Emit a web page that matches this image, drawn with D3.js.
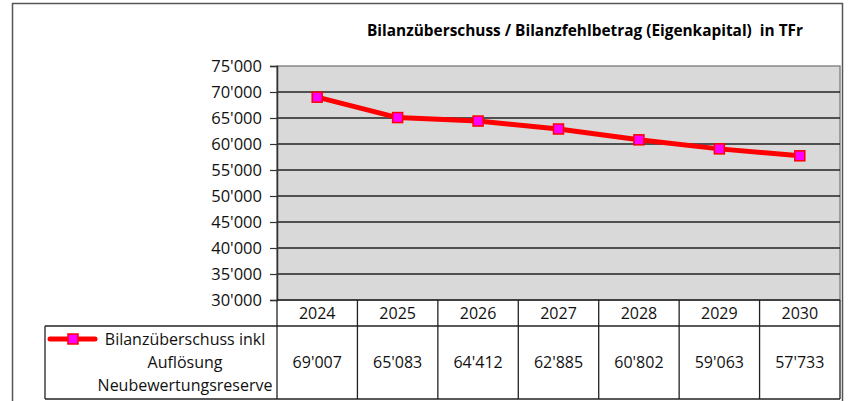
<!DOCTYPE html>
<html>
<head>
<meta charset="utf-8">
<script src="https://cdn.jsdelivr.net/npm/d3@7"></script>
<style>
  body { margin: 0; background: #fff; }
  svg { display: block; font-family: "Open Sans", "DejaVu Sans", sans-serif; }
</style>
</head>
<body>
<svg width="852" height="401"></svg>
<script>
const years = ["2024", "2025", "2026", "2027", "2028", "2029", "2030"]
const values = [69007, 65083, 64412, 62885, 60802, 59063, 57733]
const yTicks = [30000, 35000, 40000, 45000, 50000, 55000, 60000, 65000, 70000, 75000]
const seriesLabel = ["Bilanzüberschuss inkl", "Auflösung", "Neubewertungsreserve"]
const title = "Bilanzüberschuss / Bilanzfehlbetrag (Eigenkapital)  in TFr"

const svg = d3.select("svg")
const plot = {left: 277, right: 840, top: 66, bottom: 300}
const fmt = v => d3.format(",")(v).replace(/,/g, "'")

// outer frame
svg.append("path")
  .attr("d", "M12.5,401 V3.5 H842.5 V401")
  .attr("fill", "none").attr("stroke", "#555").attr("stroke-width", 1.5)

svg.append("text")
  .attr("x", 585).attr("y", 36)
  .attr("text-anchor", "middle")
  .attr("font-size", 16).attr("font-weight", "bold")
  .attr("textLength", 436).attr("lengthAdjust", "spacingAndGlyphs")
  .style("white-space", "pre")
  .text(title)

const x = d3.scaleBand().domain(years).range([plot.left, plot.right])
const y = d3.scaleLinear().domain([30000, 75000]).range([plot.bottom, plot.top])

svg.append("rect")
  .attr("x", plot.left).attr("y", plot.top)
  .attr("width", plot.right - plot.left).attr("height", plot.bottom - plot.top)
  .attr("fill", "#d9d9d9").attr("stroke", "#888").attr("stroke-width", 1.5)

svg.append("g").selectAll("line")
  .data(yTicks.filter(d => d > 30000 && d < 75000))
  .join("line")
  .attr("x1", plot.left).attr("x2", plot.right)
  .attr("y1", d => y(d)).attr("y2", d => y(d))
  .attr("stroke", "#222").attr("stroke-width", 1.5)

const yAxis = svg.append("g")
  .attr("transform", `translate(${plot.left},0)`)
  .call(d3.axisLeft(y).tickValues(yTicks).tickFormat(fmt).tickSize(7).tickPadding(8))
yAxis.select(".domain").attr("stroke", "#333").attr("stroke-width", 1.5)
yAxis.selectAll(".tick line").attr("stroke", "#333").attr("stroke-width", 1.2)
yAxis.selectAll(".tick text")
  .attr("font-size", 16.5).attr("fill", "#111")
  .attr("font-family", "Open Sans, sans-serif")

// series line
const line = d3.line()
  .x((d, i) => x(years[i]) + x.bandwidth() / 2)
  .y(d => y(d))
svg.append("path").datum(values)
  .attr("d", line)
  .attr("fill", "none").attr("stroke", "#ff0000").attr("stroke-width", 5)
  .attr("stroke-linejoin", "round")

svg.append("g").selectAll("rect")
  .data(values)
  .join("rect")
  .attr("x", (d, i) => x(years[i]) + x.bandwidth() / 2 - 5)
  .attr("y", d => y(d) - 5)
  .attr("width", 10).attr("height", 10)
  .attr("fill", "#ff00ff").attr("stroke", "#ff0000").attr("stroke-width", 1.5)

// data table
const rowTop = 300, rowMid = 326, rowBot = 399, legLeft = 45
const tbl = svg.append("g").attr("stroke", "#222").attr("stroke-width", 1.3)
tbl.append("line").attr("x1", plot.left).attr("x2", plot.right).attr("y1", rowTop).attr("y2", rowTop)
tbl.append("line").attr("x1", legLeft).attr("x2", plot.right).attr("y1", rowMid).attr("y2", rowMid)
tbl.append("line").attr("x1", legLeft).attr("x2", plot.right).attr("y1", rowBot).attr("y2", rowBot)
tbl.append("line").attr("x1", legLeft).attr("x2", legLeft).attr("y1", rowMid).attr("y2", rowBot)
tbl.selectAll("line.col")
  .data(years.map(d => x(d)).concat([plot.right]))
  .join("line").attr("class", "col")
  .attr("x1", d => d).attr("x2", d => d)
  .attr("y1", rowTop).attr("y2", rowBot)

svg.append("g").selectAll("text")
  .data(years)
  .join("text")
  .attr("x", d => x(d) + x.bandwidth() / 2).attr("y", 319)
  .attr("text-anchor", "middle").attr("font-size", 16).attr("fill", "#111")
  .text(d => d)

svg.append("g").selectAll("text")
  .data(values)
  .join("text")
  .attr("x", (d, i) => x(years[i]) + x.bandwidth() / 2).attr("y", 368)
  .attr("text-anchor", "middle").attr("font-size", 16).attr("fill", "#111")
  .text(d => fmt(d))

// legend key
svg.append("line")
  .attr("x1", 50).attr("x2", 95).attr("y1", 339).attr("y2", 339)
  .attr("stroke", "#ff0000").attr("stroke-width", 5).attr("stroke-linecap", "round")
svg.append("rect")
  .attr("x", 68).attr("y", 334).attr("width", 10).attr("height", 10)
  .attr("fill", "#ff00ff").attr("stroke", "#ff0000").attr("stroke-width", 1.5)

svg.append("g").selectAll("text")
  .data(seriesLabel)
  .join("text")
  .attr("x", 185).attr("y", (d, i) => 345 + i * 23)
  .attr("text-anchor", "middle").attr("font-size", 16).attr("fill", "#111")
  .text(d => d)
</script>
</body>
</html>
